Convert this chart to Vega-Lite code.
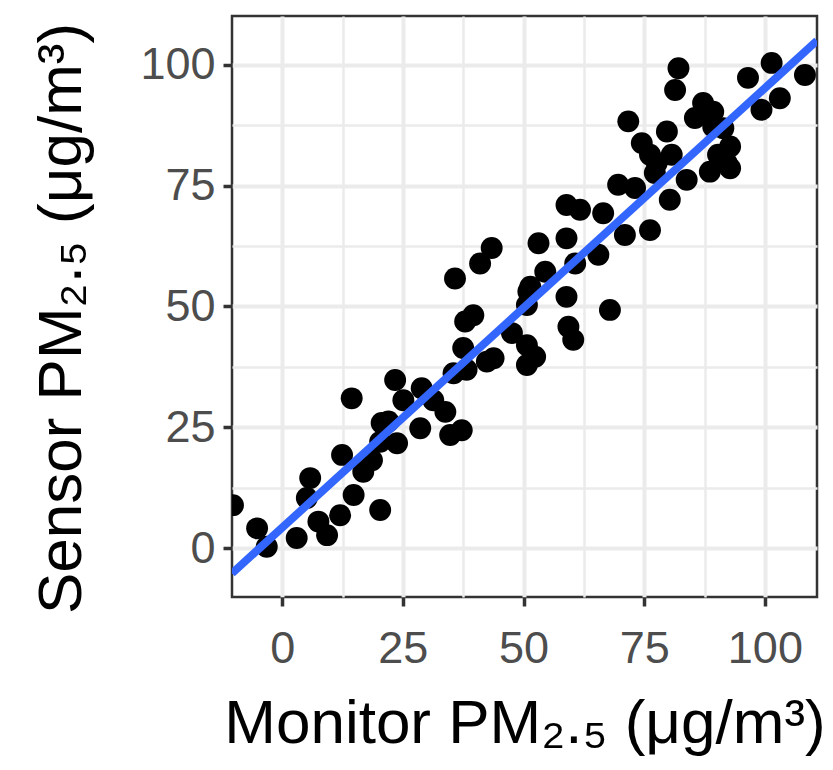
{
  "$schema": "https://vega.github.io/schema/vega-lite/v6.json",
  "autosize": "none",
  "width": 585,
  "height": 581,
  "padding": {"left": 232, "top": 16, "right": 16, "bottom": 173},
  "background": "white",
  "config": {
    "font": "Liberation Sans",
    "view": {"stroke": "#333333", "strokeWidth": 2.5},
    "axis": {
      "domain": false,
      "gridColor": "#EBEBEB",
      "tickColor": "#333333",
      "tickSize": 9,
      "labelColor": "#4D4D4D",
      "labelFont": "Liberation Sans",
      "labelFontSize": 45,
      "titleFont": "Liberation Sans",
      "titleFontWeight": "normal",
      "titleColor": "#000000",
      "titleFontSize": 62
    }
  },
  "datasets": {
    "pts": [
      {"monitor": -10.2, "sensor": 8.9},
      {"monitor": -5.2, "sensor": 4.1},
      {"monitor": -3.2, "sensor": 0.3},
      {"monitor": 3.0, "sensor": 2.1},
      {"monitor": 5.8, "sensor": 14.5},
      {"monitor": 5.1, "sensor": 10.4},
      {"monitor": 7.5, "sensor": 5.5},
      {"monitor": 9.3, "sensor": 2.7},
      {"monitor": 12.0, "sensor": 6.8},
      {"monitor": 12.4, "sensor": 19.3},
      {"monitor": 14.8, "sensor": 11.0},
      {"monitor": 16.8, "sensor": 15.8},
      {"monitor": 18.6, "sensor": 18.2},
      {"monitor": 20.3, "sensor": 7.9},
      {"monitor": 20.6, "sensor": 25.9},
      {"monitor": 20.3, "sensor": 22.0},
      {"monitor": 23.8, "sensor": 21.7},
      {"monitor": 14.4, "sensor": 31.0},
      {"monitor": 23.4, "sensor": 34.8},
      {"monitor": 28.9, "sensor": 33.1},
      {"monitor": 25.1, "sensor": 30.6},
      {"monitor": 31.3, "sensor": 30.6},
      {"monitor": 33.8, "sensor": 28.2},
      {"monitor": 22.0, "sensor": 26.2},
      {"monitor": 28.6, "sensor": 24.8},
      {"monitor": 34.8, "sensor": 23.4},
      {"monitor": 37.2, "sensor": 24.4},
      {"monitor": 35.5, "sensor": 36.2},
      {"monitor": 38.2, "sensor": 36.9},
      {"monitor": 37.5, "sensor": 41.4},
      {"monitor": 42.4, "sensor": 38.6},
      {"monitor": 37.9, "sensor": 46.9},
      {"monitor": 39.6, "sensor": 48.2},
      {"monitor": 35.8, "sensor": 55.8},
      {"monitor": 41.0, "sensor": 58.9},
      {"monitor": 43.4, "sensor": 62.1},
      {"monitor": 53.1, "sensor": 63.1},
      {"monitor": 58.9, "sensor": 64.1},
      {"monitor": 54.5, "sensor": 57.2},
      {"monitor": 60.7, "sensor": 58.9},
      {"monitor": 51.0, "sensor": 53.1},
      {"monitor": 50.7, "sensor": 50.3},
      {"monitor": 58.9, "sensor": 52.0},
      {"monitor": 59.3, "sensor": 45.8},
      {"monitor": 60.3, "sensor": 43.1},
      {"monitor": 47.6, "sensor": 44.5},
      {"monitor": 43.8, "sensor": 39.3},
      {"monitor": 50.7, "sensor": 42.0},
      {"monitor": 52.4, "sensor": 39.6},
      {"monitor": 50.7, "sensor": 37.9},
      {"monitor": 51.4, "sensor": 54.1},
      {"monitor": 67.9, "sensor": 49.3},
      {"monitor": 65.5, "sensor": 60.7},
      {"monitor": 58.9, "sensor": 71.0},
      {"monitor": 61.7, "sensor": 70.0},
      {"monitor": 66.5, "sensor": 69.3},
      {"monitor": 69.6, "sensor": 75.2},
      {"monitor": 73.1, "sensor": 74.5},
      {"monitor": 76.2, "sensor": 65.8},
      {"monitor": 71.0, "sensor": 64.8},
      {"monitor": 76.2, "sensor": 81.4},
      {"monitor": 81.4, "sensor": 94.8},
      {"monitor": 87.2, "sensor": 92.1},
      {"monitor": 85.5, "sensor": 89.0},
      {"monitor": 71.7, "sensor": 88.3},
      {"monitor": 79.7, "sensor": 86.2},
      {"monitor": 74.5, "sensor": 83.8},
      {"monitor": 89.3, "sensor": 87.2},
      {"monitor": 80.7, "sensor": 81.4},
      {"monitor": 77.6, "sensor": 79.7},
      {"monitor": 77.2, "sensor": 77.6},
      {"monitor": 88.6, "sensor": 77.9},
      {"monitor": 92.1, "sensor": 79.7},
      {"monitor": 83.8, "sensor": 76.2},
      {"monitor": 80.3, "sensor": 72.1},
      {"monitor": 82.1, "sensor": 99.3},
      {"monitor": 96.5, "sensor": 97.3},
      {"monitor": 101.4, "sensor": 100.4},
      {"monitor": 108.3, "sensor": 97.9},
      {"monitor": 103.1, "sensor": 93.1},
      {"monitor": 99.3, "sensor": 90.7},
      {"monitor": 89.3, "sensor": 90.3},
      {"monitor": 91.4, "sensor": 86.9},
      {"monitor": 92.8, "sensor": 83.1},
      {"monitor": 90.3, "sensor": 81.4},
      {"monitor": 92.8, "sensor": 78.6}
    ],
    "fit": [
      {"monitor": -10.4, "sensor": -5.2},
      {"monitor": 110.8, "sensor": 105.0}
    ]
  },
  "layer": [
    {
      "data": {"name": "pts"},
      "mark": {"type": "point", "filled": true, "shape": "circle", "size": 480, "color": "#000000", "opacity": 1, "clip": true},
      "encoding": {
        "x": {
          "field": "monitor", "type": "quantitative",
          "scale": {"domain": [-10.4, 110.8], "nice": false, "zero": false},
          "axis": {
            "title": "Monitor PM₂.₅ (μg/m³)",
            "values": [0, 12.5, 25, 37.5, 50, 62.5, 75, 87.5, 100],
            "labelExpr": "datum.value % 25 == 0 ? datum.label : ''",
            "tickOpacity": {"condition": {"test": "datum.value % 25 != 0", "value": 0}, "value": 1},
            "tickWidth": 3.5,
            "gridWidth": {"condition": {"test": "datum.value % 25 != 0", "value": 2.5}, "value": 4},
            "labelPadding": 20,
            "titlePadding": 22
          }
        },
        "y": {
          "field": "sensor", "type": "quantitative",
          "scale": {"domain": [-10.1, 110.1], "nice": false, "zero": false},
          "axis": {
            "title": "Sensor PM₂.₅ (μg/m³)",
            "values": [0, 12.5, 25, 37.5, 50, 62.5, 75, 87.5, 100],
            "labelExpr": "datum.value % 25 == 0 ? datum.label : ''",
            "tickOpacity": {"condition": {"test": "datum.value % 25 != 0", "value": 0}, "value": 1},
            "tickWidth": 3.5,
            "gridWidth": {"condition": {"test": "datum.value % 25 != 0", "value": 2.5}, "value": 4},
            "labelPadding": 8,
            "titlePadding": 46,
            "titleY": 302
          }
        }
      }
    },
    {
      "data": {"name": "fit"},
      "mark": {"type": "line", "color": "#3366FF", "strokeWidth": 8, "clip": true},
      "encoding": {
        "x": {"field": "monitor", "type": "quantitative"},
        "y": {"field": "sensor", "type": "quantitative"}
      }
    }
  ]
}
